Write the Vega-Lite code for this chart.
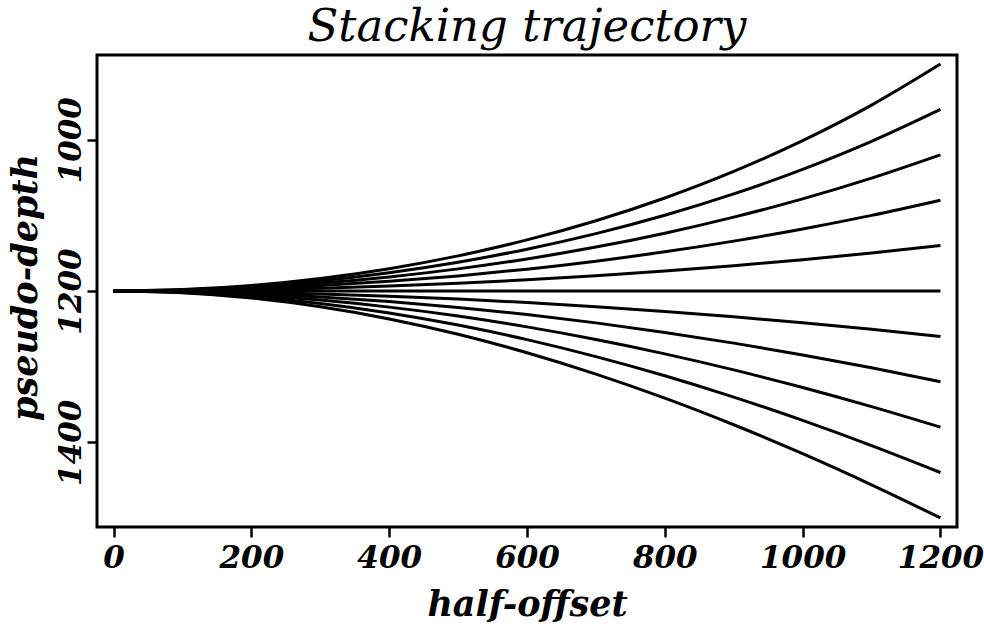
{
  "$schema": "https://vega.github.io/schema/vega-lite/v6.json",
  "width": 860,
  "height": 472,
  "autosize": "none",
  "padding": {"left": 97, "top": 55, "right": 27, "bottom": 100},
  "background": "white",
  "config": {"view": {"stroke": "black", "strokeWidth": 3}},
  "title": {"text": "Stacking trajectory", "frame": "group", "font": "DejaVu Serif", "fontStyle": "italic", "fontWeight": "normal", "fontSize": 45, "baseline": "alphabetic", "offset": 16, "dy": 47, "anchor": "middle", "color": "black"},
  "data": {"values": [
    {"c":1,"h":0,"z":1200},{"c":1,"h":100,"z":1198.18},{"c":1,"h":200,"z":1192.69},{"c":1,"h":300,"z":1183.48},{"c":1,"h":400,"z":1170.47},{"c":1,"h":500,"z":1153.53},{"c":1,"h":600,"z":1132.47},{"c":1,"h":700,"z":1107.08},{"c":1,"h":800,"z":1077.03},{"c":1,"h":900,"z":1041.93},{"c":1,"h":1000,"z":1001.25},{"c":1,"h":1100,"z":954.27},{"c":1,"h":1200,"z":900},
    {"c":2,"h":0,"z":1200},{"c":2,"h":100,"z":1198.5},{"c":2,"h":200,"z":1193.98},{"c":2,"h":300,"z":1186.42},{"c":2,"h":400,"z":1175.76},{"c":2,"h":500,"z":1161.9},{"c":2,"h":600,"z":1144.73},{"c":2,"h":700,"z":1124.1},{"c":2,"h":800,"z":1099.82},{"c":2,"h":900,"z":1071.63},{"c":2,"h":1000,"z":1039.23},{"c":2,"h":1100,"z":1002.2},{"c":2,"h":1200,"z":960},
    {"c":3,"h":0,"z":1200},{"c":3,"h":100,"z":1198.84},{"c":3,"h":200,"z":1195.36},{"c":3,"h":300,"z":1189.55},{"c":3,"h":400,"z":1181.36},{"c":3,"h":500,"z":1170.74},{"c":3,"h":600,"z":1157.63},{"c":3,"h":700,"z":1141.94},{"c":3,"h":800,"z":1123.57},{"c":3,"h":900,"z":1102.37},{"c":3,"h":1000,"z":1078.19},{"c":3,"h":1100,"z":1050.82},{"c":3,"h":1200,"z":1020},
    {"c":4,"h":0,"z":1200},{"c":4,"h":100,"z":1199.21},{"c":4,"h":200,"z":1196.83},{"c":4,"h":300,"z":1192.85},{"c":4,"h":400,"z":1187.27},{"c":4,"h":500,"z":1180.04},{"c":4,"h":600,"z":1171.15},{"c":4,"h":700,"z":1160.56},{"c":4,"h":800,"z":1148.22},{"c":4,"h":900,"z":1134.06},{"c":4,"h":1000,"z":1118.03},{"c":4,"h":1100,"z":1100.05},{"c":4,"h":1200,"z":1080},
    {"c":5,"h":0,"z":1200},{"c":5,"h":100,"z":1199.59},{"c":5,"h":200,"z":1198.37},{"c":5,"h":300,"z":1196.33},{"c":5,"h":400,"z":1193.48},{"c":5,"h":500,"z":1189.8},{"c":5,"h":600,"z":1185.28},{"c":5,"h":700,"z":1179.93},{"c":5,"h":800,"z":1173.71},{"c":5,"h":900,"z":1166.63},{"c":5,"h":1000,"z":1158.66},{"c":5,"h":1100,"z":1149.79},{"c":5,"h":1200,"z":1140},
    {"c":6,"h":0,"z":1200},{"c":6,"h":100,"z":1200},{"c":6,"h":200,"z":1200},{"c":6,"h":300,"z":1200},{"c":6,"h":400,"z":1200},{"c":6,"h":500,"z":1200},{"c":6,"h":600,"z":1200},{"c":6,"h":700,"z":1200},{"c":6,"h":800,"z":1200},{"c":6,"h":900,"z":1200},{"c":6,"h":1000,"z":1200},{"c":6,"h":1100,"z":1200},{"c":6,"h":1200,"z":1200},
    {"c":7,"h":0,"z":1200},{"c":7,"h":100,"z":1200.43},{"c":7,"h":200,"z":1201.71},{"c":7,"h":300,"z":1203.84},{"c":7,"h":400,"z":1206.81},{"c":7,"h":500,"z":1210.63},{"c":7,"h":600,"z":1215.28},{"c":7,"h":700,"z":1220.75},{"c":7,"h":800,"z":1227.03},{"c":7,"h":900,"z":1234.11},{"c":7,"h":1000,"z":1241.97},{"c":7,"h":1100,"z":1250.61},{"c":7,"h":1200,"z":1260},
    {"c":8,"h":0,"z":1200},{"c":8,"h":100,"z":1200.87},{"c":8,"h":200,"z":1203.49},{"c":8,"h":300,"z":1207.85},{"c":8,"h":400,"z":1213.92},{"c":8,"h":500,"z":1221.68},{"c":8,"h":600,"z":1231.1},{"c":8,"h":700,"z":1242.14},{"c":8,"h":800,"z":1254.75},{"c":8,"h":900,"z":1268.9},{"c":8,"h":1000,"z":1284.52},{"c":8,"h":1100,"z":1301.58},{"c":8,"h":1200,"z":1320},
    {"c":9,"h":0,"z":1200},{"c":9,"h":100,"z":1201.34},{"c":9,"h":200,"z":1205.36},{"c":9,"h":300,"z":1212.03},{"c":9,"h":400,"z":1221.31},{"c":9,"h":500,"z":1233.14},{"c":9,"h":600,"z":1247.44},{"c":9,"h":700,"z":1264.13},{"c":9,"h":800,"z":1283.12},{"c":9,"h":900,"z":1304.31},{"c":9,"h":1000,"z":1327.59},{"c":9,"h":1100,"z":1352.86},{"c":9,"h":1200,"z":1380},
    {"c":10,"h":0,"z":1200},{"c":10,"h":100,"z":1201.83},{"c":10,"h":200,"z":1207.31},{"c":10,"h":300,"z":1216.39},{"c":10,"h":400,"z":1228.98},{"c":10,"h":500,"z":1244.99},{"c":10,"h":600,"z":1264.28},{"c":10,"h":700,"z":1286.7},{"c":10,"h":800,"z":1312.1},{"c":10,"h":900,"z":1340.3},{"c":10,"h":1000,"z":1371.13},{"c":10,"h":1100,"z":1404.42},{"c":10,"h":1200,"z":1440},
    {"c":11,"h":0,"z":1200},{"c":11,"h":100,"z":1202.34},{"c":11,"h":200,"z":1209.34},{"c":11,"h":300,"z":1220.91},{"c":11,"h":400,"z":1236.93},{"c":11,"h":500,"z":1257.23},{"c":11,"h":600,"z":1281.6},{"c":11,"h":700,"z":1309.82},{"c":11,"h":800,"z":1341.64},{"c":11,"h":900,"z":1376.82},{"c":11,"h":1000,"z":1415.1},{"c":11,"h":1100,"z":1456.24},{"c":11,"h":1200,"z":1500}
  ]},
  "mark": {"type": "line", "color": "black", "strokeWidth": 3, "interpolate": "monotone", "clip": true},
  "encoding": {
    "x": {
      "field": "h", "type": "quantitative",
      "scale": {"domain": [-24, 1224], "nice": false, "zero": false},
      "axis": {
        "values": [0, 200, 400, 600, 800, 1000, 1200], "format": "d",
        "title": "half-offset", "grid": false, "domain": false,
        "tickColor": "black", "tickWidth": 2.5, "tickSize": 10,
        "labelFont": "DejaVu Serif", "labelFontStyle": "italic", "labelFontWeight": "bold", "labelFontSize": 31, "labelColor": "black",
        "labelPadding": 6, "labelFlush": false, "labelOverlap": false,
        "titleFont": "DejaVu Serif", "titleFontStyle": "italic", "titleFontWeight": "bold", "titleFontSize": 35, "titleColor": "black",
        "titleX": 430, "titleY": 88, "titleBaseline": "alphabetic", "titleAlign": "center"
      }
    },
    "y": {
      "field": "z", "type": "quantitative",
      "scale": {"domain": [888, 1512], "reverse": true, "nice": false, "zero": false},
      "axis": {
        "values": [1000, 1200, 1400], "format": "d",
        "title": "pseudo-depth", "grid": false, "domain": false,
        "tickColor": "black", "tickWidth": 2.5, "tickSize": 10,
        "labelFont": "DejaVu Serif", "labelFontStyle": "italic", "labelFontWeight": "bold", "labelFontSize": 31, "labelColor": "black",
        "labelAngle": -90, "labelAlign": "center", "labelBaseline": "alphabetic", "labelPadding": 7, "labelFlush": false, "labelOverlap": false,
        "titleFont": "DejaVu Serif", "titleFontStyle": "italic", "titleFontWeight": "bold", "titleFontSize": 35, "titleColor": "black",
        "titleAngle": -90, "titleX": -61, "titleY": 232, "titleBaseline": "alphabetic", "titleAlign": "center"
      }
    },
    "detail": {"field": "c", "type": "nominal"}
  }
}
